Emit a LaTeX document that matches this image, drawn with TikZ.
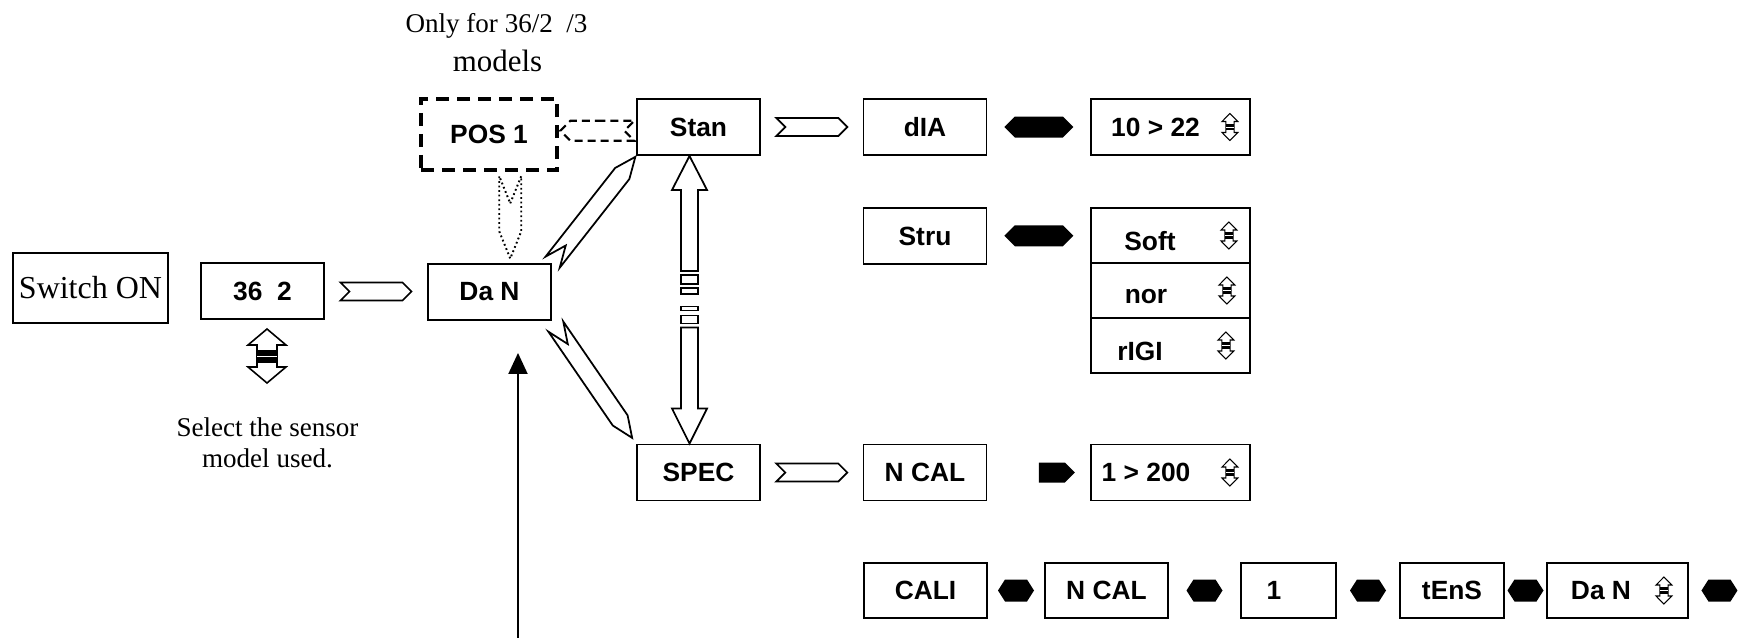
\documentclass[tikz,border=0pt]{standalone}
\usepackage{fontspec}
\setmainfont{Liberation Serif}
\setsansfont{Liberation Sans}
\usetikzlibrary{shapes.symbols,arrows.meta}

\tikzset{
  menubox/.style={draw, line width=1.1pt, minimum width=2.46cm, minimum height=1.12cm,
    inner sep=0pt, font=\sffamily\bfseries\fontsize{15}{18}\selectfont},
  valbox/.style={menubox, minimum width=3.18cm},
  notch/.style={shape=signal, draw, fill=white, line width=1pt, signal from=west,
    signal to=east, minimum width=1.42cm, minimum height=0.36cm, inner sep=0pt},
  blob/.style={shape=signal, fill=black, signal to=east and west,
    minimum width=1.38cm, minimum height=0.42cm, inner sep=0pt},
  pics/updn/.style={code={
    \draw[fill=white] (0,0.54) -- (0.38,0.22) -- (0.20,0.22) -- (0.20,-0.22) -- (0.38,-0.22)
      -- (0,-0.54) -- (-0.38,-0.22) -- (-0.20,-0.22) -- (-0.20,0.22) -- (-0.38,0.22) -- cycle;
    \fill (-0.20,-0.13) rectangle (0.20,0.13);
    \draw[white, line width=0.5pt] (-0.20,0) -- (0.20,0);
  }}
}
% chữ hạ thấp trong ô
\newcommand{\lowtext}[1]{\raisebox{-0.11cm}[\height][0pt]{#1}}

\begin{document}
\begin{tikzpicture}
    % Khung ảnh
    \useasboundingbox (0,0) rectangle (34.92,-12.76);

    % 1. Ghi chú phía trên
    \node[font=\fontsize{15.4}{18}\selectfont] (note) at (9.93,-0.52) {Only for 36/2~~/3};
    \node[font=\fontsize{17.6}{20}\selectfont] (models) at (9.95,-1.22) {models};

    % 2. Các ô bên trái
    \node[menubox, minimum width=3.10cm, minimum height=1.40cm,
          font=\rmfamily\fontsize{18.2}{20}\selectfont] (swon) at (1.81,-5.76) {Switch ON};
    \node[menubox] (sel) at (5.25,-5.82) {36~~2};
    \node[menubox] (dan) at (9.79,-5.84) {Da N};
    \node[menubox, minimum width=2.72cm, minimum height=1.42cm, line width=1.9pt,
          dash pattern=on 0.26cm off 0.16cm] (pos) at (9.78,-2.69) {POS 1};

    % 3. Cột menu
    \node[menubox] (stan) at (13.97,-2.54) {Stan};
    \node[menubox] (spec) at (13.97,-9.45) {SPEC};
    \node[menubox] (dia)  at (18.50,-2.54) {dIA};
    \node[menubox] (stru) at (18.50,-4.72) {Stru};
    \node[menubox] (ncal) at (18.50,-9.45) {N CAL};

    % 4. Cột giá trị
    \node[valbox] (dval) at (23.41,-2.54) {10 > 22\hspace{0.6cm}\null};
    \node[valbox, minimum height=1.10cm] (soft) at (23.41,-4.71) {\lowtext{Soft}\hspace{0.82cm}\null};
    \node[valbox, minimum height=1.10cm] (nor)  at (23.41,-5.81) {\lowtext{nor}\hspace{0.98cm}\null};
    \node[valbox, minimum height=1.10cm] (rigi) at (23.41,-6.91) {\lowtext{rIGI}\hspace{1.22cm}\null};
    \node[valbox] (nval) at (23.41,-9.45) {1 > 200\hspace{0.98cm}\null};

    % 5. Hàng dưới cùng
    \node[menubox, minimum height=1.10cm] (cali)  at (18.51,-11.81) {CALI};
    \node[menubox, minimum height=1.10cm] (ncal2) at (22.13,-11.81) {N CAL};
    \node[menubox, minimum height=1.10cm, minimum width=1.90cm] (one) at (25.77,-11.81) {1\hspace{0.58cm}\null};
    \node[menubox, minimum height=1.10cm, minimum width=2.08cm] (tens) at (29.04,-11.81) {tEnS};
    \node[menubox, minimum height=1.10cm, minimum width=2.82cm] (dan2) at (32.35,-11.81) {Da N\hspace{0.66cm}\null};

    % 6. Mũi tên khía
    \path (sel) -- (dan) node[midway, notch] {};
    \path (stan) -- (dia) node[midway, notch] {};
    \path (spec) -- (ncal) node[midway, notch] {};
    \path (stan.west) -- (pos.east) node[midway, notch, signal from=east, signal to=west,
          minimum width=1.48cm, minimum height=0.40cm, line width=1.2pt,
          dash pattern=on 0.16cm off 0.1cm] {};
    \path ([xshift=0.42cm]pos.south) -- ([xshift=0.42cm]dan.north) node[midway, notch,
          signal from=north, signal to=south, signal pointer angle=44, line width=1.1pt,
          minimum width=0.44cm, minimum height=0.56cm, dash pattern=on 1pt off 1.6pt] {};
    \path (dan.north east) -- (stan.south west) node[midway, sloped, notch,
          minimum width=2.68cm, signal pointer angle=46] {};
    \path (dan.south east) -- (spec.north west) node[midway, sloped, notch,
          minimum width=2.70cm, signal pointer angle=46] {};

    % 7. Mũi tên hai chiều bị ngắt giữa Stan và SPEC
    \coordinate (vt) at ([xshift=-0.18cm]stan.south);
    \coordinate (vb) at ([xshift=-0.18cm]spec.north);
    \draw[line width=1pt, fill=white] (vt) -- ++(0.35,-0.68) -- ++(-0.18,0) -- ++(0,-1.62)
        -- ++(-0.34,0) -- ++(0,1.62) -- ++(-0.18,0) -- cycle;
    \draw[line width=1pt] ([shift={(-0.17,-2.38)}]vt) rectangle ([shift={(0.17,-2.56)}]vt);
    \draw[line width=1pt] ([shift={(-0.17,-2.64)}]vt) rectangle ([shift={(0.17,-2.76)}]vt);
    \draw[line width=1pt, fill=white] (vb) -- ++(0.35,0.70) -- ++(-0.18,0) -- ++(0,1.62)
        -- ++(-0.34,0) -- ++(0,-1.62) -- ++(-0.18,0) -- cycle;
    \draw[line width=1pt] ([shift={(-0.17,2.40)}]vb) rectangle ([shift={(0.17,2.56)}]vb);
    \draw[line width=1pt] ([shift={(-0.17,2.66)}]vb) rectangle ([shift={(0.17,2.74)}]vb);

    % 8. Các khối đen nối
    \path (dia.east) -- (dval.west) node[midway, blob] {};
    \path (stru.east) -- (soft.west) node[midway, blob] {};
    \path (ncal.east) -- (nval.west) node[midway, blob, signal to=east, xshift=0.26cm,
          minimum width=0.72cm, minimum height=0.40cm] {};
    \path (cali.east) -- (ncal2.west) node[midway, blob, minimum width=0.72cm,
          minimum height=0.44cm, signal pointer angle=115] {};
    \path (ncal2.east) -- (one.west) node[midway, blob, minimum width=0.72cm,
          minimum height=0.44cm, signal pointer angle=115] {};
    \path (one.east) -- (tens.west) node[midway, blob, minimum width=0.72cm,
          minimum height=0.44cm, signal pointer angle=115] {};
    \path (tens.east) -- (dan2.west) node[midway, blob, minimum width=0.72cm,
          minimum height=0.44cm, signal pointer angle=115] {};
    \node[blob, minimum width=0.72cm, minimum height=0.44cm, signal pointer angle=115]
          (tailblob) at ([xshift=0.61cm]dan2.east) {};

    % 9. Ký hiệu lên/xuống
    \pic[line width=0.9pt] at (5.34,-7.12) {updn};
    \pic[xscale=0.42, yscale=0.5, line width=0.6pt] at ([xshift=-0.42cm]dval.east) {updn};
    \pic[xscale=0.42, yscale=0.5, line width=0.6pt] at ([xshift=-0.44cm]soft.east) {updn};
    \pic[xscale=0.42, yscale=0.5, line width=0.6pt] at ([xshift=-0.48cm]nor.east) {updn};
    \pic[xscale=0.42, yscale=0.5, line width=0.6pt] at ([xshift=-0.50cm]rigi.east) {updn};
    \pic[xscale=0.42, yscale=0.5, line width=0.6pt] at ([xshift=-0.42cm]nval.east) {updn};
    \pic[xscale=0.42, yscale=0.5, line width=0.6pt] at ([xshift=-0.50cm]dan2.east) {updn};

    % 10. Chú thích chọn cảm biến
    \node[align=center, font=\fontsize{15.4}{17.6}\selectfont] (hint) at (5.35,-8.85)
          {Select the sensor\\model used.};

    % 11. Mũi tên quay về Da N
    \coordinate (feed) at (10.36,-12.76);
    \draw[line width=1.1pt, -{Triangle[width=0.38cm,length=0.42cm]}, shorten >=0.64cm]
        (feed) -- (feed |- dan.south);
\end{tikzpicture}
\end{document}
